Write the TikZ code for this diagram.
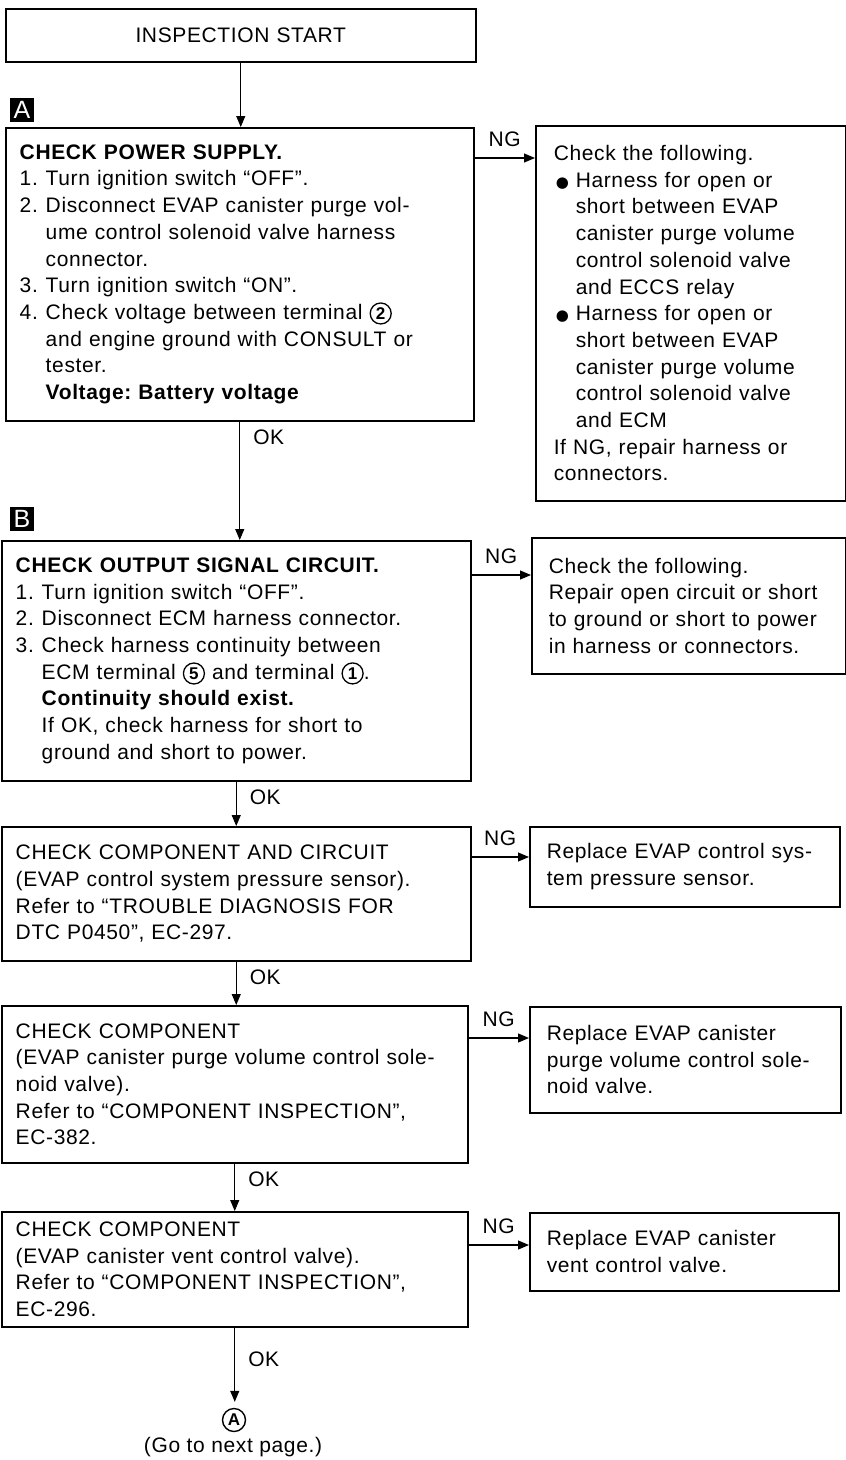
\documentclass[tikz,border=0pt]{standalone}
\usepackage{fontspec}
\setmainfont{Liberation Sans}[LetterSpace=3]
\newfontfamily\dejavu{DejaVu Sans}
\usetikzlibrary{arrows.meta,calc}
\frenchspacing

\newcommand{\txt}{\fontsize{21}{26.7}\selectfont}
\newcommand{\stepno}[1]{\makebox[26pt][l]{#1}}
\newcommand{\indnt}{\hspace*{26pt}}
\newcommand{\bul}{\hspace*{2pt}\makebox[20pt][l]{\dejavu\fontsize{15}{15}\selectfont ●}}
\newcommand{\bindnt}{\hspace*{22pt}}
\newcommand{\cnum}[1]{\tikz[baseline=(cn.base)]\node[circle, draw, line width=1.3pt, anchor=center,
  inner sep=0pt, minimum width=21pt, minimum height=21pt, text width={}, align=center,
  font=\bfseries\fontsize{17}{17}\selectfont] (cn) {#1};}

\begin{document}
\begin{tikzpicture}[x=1pt, y=-1pt,
  box/.style={draw, line width=1.5pt, anchor=north west, align=left, inner xsep=14pt, inner ysep=0pt, font=\txt},
  arr/.style={line width=1.1pt, -{Triangle[length=11pt, width=9pt]}},
  tag/.style={fill=black, text=white, font=\fontsize{25}{25}\selectfont, minimum size=24pt, inner sep=0pt},
  lbl/.style={font=\txt, inner sep=2pt}]
  \useasboundingbox (0,0) rectangle (846,1460);

  \node[box, minimum width=470pt, minimum height=53pt, text width=442pt, align=center] (start) at (5,8) {INSPECTION START};

  % A
  \node[tag] (tagA) at (22,110) {A};
  \node[box, minimum width=468pt, minimum height=293pt, text width=440pt] (chkA) at (5,127) {%
    \textbf{CHECK POWER SUPPLY.}\\
    \stepno{1.}Turn ignition switch “OFF”.\\
    \stepno{2.}Disconnect EVAP canister purge vol-\\
    \indnt ume control solenoid valve harness\\
    \indnt connector.\\
    \stepno{3.}Turn ignition switch “ON”.\\
    \stepno{4.}Check voltage between terminal \cnum{2}\\
    \indnt and engine ground with CONSULT or\\
    \indnt tester.\\
    \indnt\textbf{Voltage: Battery voltage}};
  \node[box, minimum width=310pt, minimum height=375pt, inner xsep=18pt, text width=274pt] (fixA) at (535,125) {%
    Check the following.\\
    \bul Harness for open or\\
    \bindnt short between EVAP\\
    \bindnt canister purge volume\\
    \bindnt control solenoid valve\\
    \bindnt and ECCS relay\\
    \bul Harness for open or\\
    \bindnt short between EVAP\\
    \bindnt canister purge volume\\
    \bindnt control solenoid valve\\
    \bindnt and ECM\\
    If NG, repair harness or\\
    connectors.};

  % B
  \node[tag] (tagB) at (22,519) {B};
  \node[box, minimum width=469pt, minimum height=240pt, text width=441pt] (chkB) at (1,540) {%
    \textbf{CHECK OUTPUT SIGNAL CIRCUIT.}\\
    \stepno{1.}Turn ignition switch “OFF”.\\
    \stepno{2.}Disconnect ECM harness connector.\\
    \stepno{3.}Check harness continuity between\\
    \indnt ECM terminal \cnum{5} and terminal \cnum{1}.\\
    \indnt\textbf{Continuity should exist.}\\
    \indnt If OK, check harness for short to\\
    \indnt ground and short to power.};
  \node[box, minimum width=314pt, minimum height=136pt, inner xsep=17pt, text width=280pt] (fixB) at (531,537) {%
    Check the following.\\
    Repair open circuit or short\\
    to ground or short to power\\
    in harness or connectors.};

  % C
  \node[box, minimum width=469pt, minimum height=134pt, text width=441pt] (chkC) at (1,826) {%
    CHECK COMPONENT AND CIRCUIT\\
    (EVAP control system pressure sensor).\\
    Refer to “TROUBLE DIAGNOSIS FOR\\
    DTC P0450”, EC-297.};
  \node[box, minimum width=310pt, minimum height=80pt, inner xsep=17pt, text width=276pt] (fixC) at (529,826) {%
    Replace EVAP control sys-\\
    tem pressure sensor.};

  % D
  \node[box, minimum width=466pt, minimum height=157pt, text width=438pt] (chkD) at (1,1005) {%
    CHECK COMPONENT\\
    (EVAP canister purge volume control sole-\\
    noid valve).\\
    Refer to “COMPONENT INSPECTION”,\\
    EC-382.};
  \node[box, minimum width=311pt, minimum height=106pt, inner xsep=17pt, text width=277pt] (fixD) at (529,1006) {%
    Replace EVAP canister\\
    purge volume control sole-\\
    noid valve.};

  % E
  \node[box, minimum width=466pt, minimum height=115pt, text width=438pt] (chkE) at (1,1211) {%
    CHECK COMPONENT\\
    (EVAP canister vent control valve).\\
    Refer to “COMPONENT INSPECTION”,\\
    EC-296.};
  \node[box, minimum width=309pt, minimum height=78pt, inner xsep=17pt, text width=275pt] (fixE) at (529,1212) {%
    Replace EVAP canister\\
    vent control valve.};

  \node[circle, draw, line width=1.4pt, minimum size=23pt, inner sep=0pt, font=\bfseries\fontsize{17}{17}\selectfont] (nextA) at (234,1420) {A};
  \node[lbl] (nextnote) at (233,1447) {(Go to next page.)};

  % connectors
  \draw[arr] (start.south) -- (start.south |- chkA.north);
  \draw[arr] (chkA.south) -- (chkA.south |- chkB.north) node[lbl, pos=0, anchor=north west, xshift=11pt, yshift=-6pt] (okA) {OK};
  \draw[arr] (chkB.south) -- (chkB.south |- chkC.north) node[lbl, pos=0, anchor=north west, xshift=11pt, yshift=-6pt] (okB) {OK};
  \draw[arr] (chkC.south) -- (chkC.south |- chkD.north) node[lbl, pos=0, anchor=north west, xshift=11pt, yshift=-6pt] (okC) {OK};
  \draw[arr] (chkD.south) -- (chkD.south |- chkE.north) node[lbl, pos=0, anchor=north west, xshift=11pt, yshift=-6pt] (okD) {OK};
  \draw[arr, shorten >=6pt] (chkE.south) -- (chkE.south |- nextA.north) node[lbl, pos=0, anchor=north west, xshift=11pt, yshift=-22pt] (okE) {OK};

  \draw[arr] ([yshift=-31pt]chkA.north east) -- ([yshift=-31pt]chkA.north east -| fixA.west) node[lbl, midway, above=9pt] (ngA) {NG};
  \draw[arr] ([yshift=-35pt]chkB.north east) -- ([yshift=-35pt]chkB.north east -| fixB.west) node[lbl, midway, above=9pt] (ngB) {NG};
  \draw[arr] ([yshift=-31pt]chkC.north east) -- ([yshift=-31pt]chkC.north east -| fixC.west) node[lbl, midway, above=9pt] (ngC) {NG};
  \draw[arr] ([yshift=-33pt]chkD.north east) -- ([yshift=-33pt]chkD.north east -| fixD.west) node[lbl, midway, above=9pt] (ngD) {NG};
  \draw[arr] ([yshift=-34pt]chkE.north east) -- ([yshift=-34pt]chkE.north east -| fixE.west) node[lbl, midway, above=9pt] (ngE) {NG};
\end{tikzpicture}
\end{document}
